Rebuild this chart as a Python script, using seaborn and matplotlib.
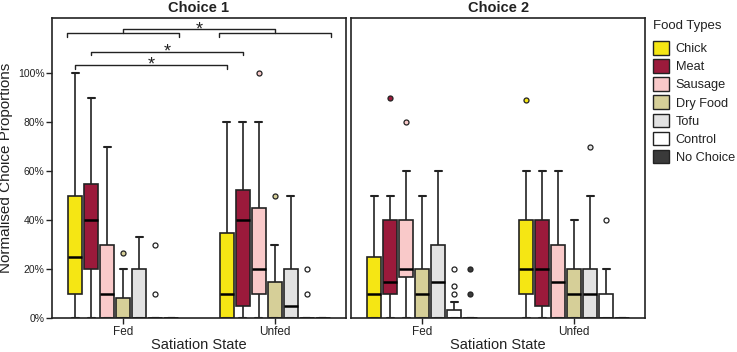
import numpy as np
import pandas as pd
import matplotlib
matplotlib.use("Agg")
import matplotlib.pyplot as plt
import matplotlib.ticker as mticker
from matplotlib.patches import Patch
import seaborn as sns

# ---------------- data (percent of choices per trial) ----------------
FOODS = ["Chick", "Meat", "Sausage", "Dry Food", "Tofu", "Control", "No Choice"]
STATES = ["Fed", "Unfed"]
COLORS = ["#f5e614", "#9b1a3b", "#f9c9c9", "#d6cf98", "#e2e2e2", "#ffffff", "#3a3a3a"]
YTICKS = [0, 20, 40, 60, 80, 100]

choice1_fed = {
    "Chick":     [0, 5, 10, 20, 25, 40, 50, 70, 100],
    "Meat":      [0, 10, 20, 30, 40, 50, 55, 70, 90],
    "Sausage":   [0, 0, 0, 10, 10, 20, 30, 50, 70],
    "Dry Food":  [0, 0, 0, 0, 0, 5, 8.3, 20, 26.7],
    "Tofu":      [0, 0, 0, 0, 0, 10, 20, 30, 33.3],
    "Control":   [0, 0, 0, 0, 0, 0, 0, 10, 30],
    "No Choice": [0, 0, 0, 0, 0, 0, 0, 0, 0],
}
choice1_unfed = {
    "Chick":     [0, 0, 0, 5, 10, 20, 35, 50, 80],
    "Meat":      [0, 0, 5, 20, 40, 50, 52.5, 70, 80],
    "Sausage":   [0, 5, 10, 15, 20, 30, 45, 80, 100],
    "Dry Food":  [0, 0, 0, 0, 0, 10, 15, 30, 50],
    "Tofu":      [0, 0, 0, 0, 5, 10, 20, 30, 50],
    "Control":   [0, 0, 0, 0, 0, 0, 0, 10, 20],
    "No Choice": [0, 0, 0, 0, 0, 0, 0, 0, 0],
}
choice2_fed = {
    "Chick":     [0, 0, 0, 5, 10, 20, 25, 40, 50],
    "Meat":      [0, 5, 10, 10, 15, 30, 40, 50, 90],
    "Sausage":   [0, 10, 16.7, 20, 20, 30, 40, 60, 80],
    "Dry Food":  [0, 0, 0, 5, 10, 15, 20, 30, 50],
    "Tofu":      [0, 0, 0, 10, 15, 20, 30, 40, 60],
    "Control":   [0, 0, 0, 0, 0, 0, 0, 0, 0, 0, 0, 0, 3.33, 6.67, 10, 13.33, 20],
    "No Choice": [0, 0, 0, 0, 0, 0, 0, 10, 20],
}
choice2_unfed = {
    "Chick":     [0, 5, 10, 15, 20, 30, 40, 60, 88.9],
    "Meat":      [0, 0, 5, 10, 20, 30, 40, 50, 60],
    "Sausage":   [0, 0, 0, 10, 15, 20, 30, 40, 60],
    "Dry Food":  [0, 0, 0, 5, 10, 15, 20, 30, 40],
    "Tofu":      [0, 0, 0, 5, 10, 15, 20, 50, 70],
    "Control":   [0, 0, 0, 0, 0, 5, 10, 20, 40],
    "No Choice": [0, 0, 0, 0, 0, 0, 0, 0, 0],
}


def long_form(fed, unfed):
    rows = []
    for state, d in zip(STATES, [fed, unfed]):
        for food in FOODS:
            for v in d[food]:
                rows.append((state, food, v))
    return pd.DataFrame(rows, columns=["state", "food", "value"])


df1 = long_form(choice1_fed, choice1_unfed)
df2 = long_form(choice2_fed, choice2_unfed)

# ---------------- style ----------------
sns.set_style("ticks")
plt.rcParams["font.family"] = ["Liberation Sans", "DejaVu Sans"]
TXT = "#222222"
plt.rcParams.update({
    "text.color": TXT, "axes.labelcolor": TXT,
    "xtick.color": TXT, "ytick.color": TXT,
    "axes.edgecolor": "#222222", "axes.linewidth": 1.2,
})

fig = plt.figure(figsize=(7.37, 3.52), dpi=100)
ax1 = fig.add_axes([0.071, 0.0957, 0.398, 0.8523])
ax2 = fig.add_axes([0.4763, 0.0957, 0.3993, 0.8523])

WIDTH = 0.737
SLOT = WIDTH / len(FOODS)

for ax, df, title in [(ax1, df1, "Choice 1"), (ax2, df2, "Choice 2")]:
    sns.boxplot(
        data=df, x="state", y="value", hue="food",
        order=STATES, hue_order=FOODS, palette=COLORS, saturation=1,
        width=WIDTH, gap=0.12, whis=1.5, linewidth=1.2, linecolor="#222222",
        fliersize=3.6,
        flierprops=dict(marker="o", markeredgecolor="#222222", markeredgewidth=0.9),
        medianprops=dict(color="black", linewidth=1.8),
        capprops=dict(linewidth=1.5),
        legend=False, ax=ax,
    )
    for cont, col in zip(ax.containers, COLORS):
        for fl in getattr(cont, "fliers", []):
            fl.set_markerfacecolor(col)
    ax.set_xlim(-0.468, 1.468)
    ax.set_ylim(0, 122.4)
    ax.set_title(title, fontsize=10.5, fontweight="bold", pad=4.5)
    ax.set_xlabel("Satiation State", fontsize=10.5, labelpad=0)
    for s in ["top", "right", "left", "bottom"]:
        ax.spines[s].set_visible(True)
        ax.spines[s].set_zorder(10)
    ax.tick_params(axis="x", length=4, width=1, pad=1.5, labelsize=8.5)

ax1.set_yticks(YTICKS)
ax1.yaxis.set_major_formatter(mticker.PercentFormatter(xmax=100, decimals=0))
ax1.tick_params(axis="y", length=4, width=1, pad=1.5, labelsize=7.5)
ax1.set_ylabel("Normalised Choice Proportions", fontsize=11, labelpad=4)
ax2.set_ylabel("")
ax2.set_yticks([])

# ---------------- significance brackets (Choice 1) ----------------
def off(i):
    return (i - (len(FOODS) - 1) / 2) * SLOT

def bracket(ax, x0, x1, y, drop=1.5, star=True, yl0=None, yl1=None):
    a = y - drop if yl0 is None else yl0
    b = y - drop if yl1 is None else yl1
    ax.plot([x0, x0, x1, x1], [a, y, y, b], color="#222222", lw=1.0, clip_on=False)
    if star:
        ax.text((x0 + x1) / 2, y - 2.0, "*", ha="center", va="baseline",
                fontsize=13, color="#222222")

bracket(ax1, 0 + off(0), 1 + off(0), 103.4)
bracket(ax1, 0 + off(1), 1 + off(1), 108.8)
bracket(ax1, -WIDTH / 2, WIDTH / 2, 116.3, star=False)
bracket(ax1, 1 - WIDTH / 2, 1 + WIDTH / 2, 116.3, star=False)
bracket(ax1, 0, 1, 118.0, yl0=116.3, yl1=116.3)

# ---------------- legend ----------------
handles = [Patch(facecolor=c, edgecolor="#222222", linewidth=1.0, label=f) for f, c in zip(FOODS, COLORS)]
leg = fig.legend(handles=handles, title="Food Types", loc="upper left",
                 bbox_to_anchor=(0.883, 0.95), frameon=False, fontsize=9.2,
                 title_fontsize=9.5, handlelength=1.25, handleheight=1.27,
                 handletextpad=0.5, labelspacing=0.31, borderpad=0.2,
                 borderaxespad=0)
leg._legend_box.align = "left"
leg._legend_box.sep = 6.5

fig.savefig("out.png", dpi=100)
